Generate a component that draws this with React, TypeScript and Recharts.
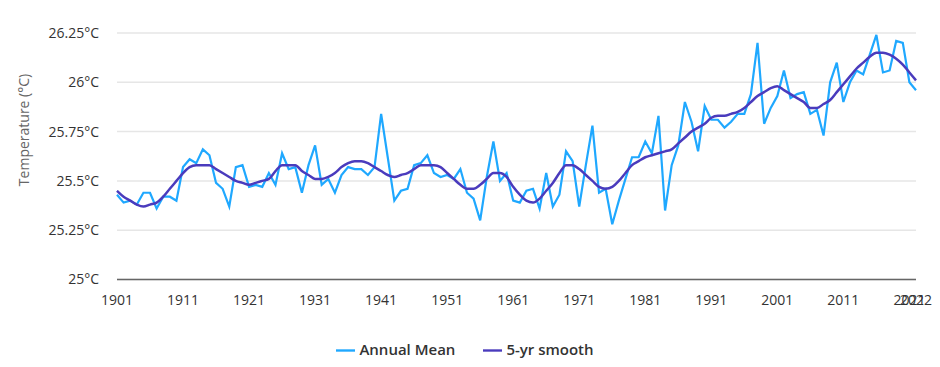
import React from "react";
import { CartesianGrid, Legend, Line, LineChart, XAxis, YAxis } from "recharts";

// Annual mean temperature, 1901–2022, with a 5-year smoothed trend.
const startYear = 1901;

const annualMean = [
  25.43, 25.39, 25.4, 25.38, 25.44, 25.44, 25.36, 25.42, 25.42, 25.4,
  25.57, 25.61, 25.59, 25.66, 25.63, 25.49, 25.46, 25.37, 25.57, 25.58,
  25.47, 25.48, 25.47, 25.54, 25.48, 25.64, 25.56, 25.57, 25.44, 25.58,
  25.68, 25.48, 25.51, 25.44, 25.53, 25.57, 25.56, 25.56, 25.53, 25.57,
  25.84, 25.62, 25.4, 25.45, 25.46, 25.58, 25.59, 25.63, 25.54, 25.52,
  25.53, 25.51, 25.56, 25.44, 25.41, 25.3, 25.52, 25.7, 25.5, 25.54,
  25.4, 25.39, 25.45, 25.46, 25.36, 25.54, 25.37, 25.43, 25.65, 25.6,
  25.37, 25.58, 25.78, 25.44, 25.46, 25.28, 25.4, 25.51, 25.62, 25.62,
  25.7, 25.64, 25.83, 25.35, 25.58, 25.68, 25.9, 25.8, 25.65, 25.88,
  25.81, 25.81, 25.77, 25.8, 25.84, 25.84, 25.94, 26.2, 25.79, 25.87,
  25.93, 26.06, 25.92, 25.94, 25.95, 25.84, 25.86, 25.73, 26.0, 26.1,
  25.9, 26.0, 26.06, 26.04, 26.14, 26.24, 26.05, 26.06, 26.21, 26.2,
  26.0, 25.96,
];

const smooth5 = [
  25.45, 25.42, 25.4, 25.38, 25.37, 25.38, 25.39, 25.42, 25.46, 25.5,
  25.54, 25.57, 25.58, 25.58, 25.58, 25.56, 25.54, 25.52, 25.5, 25.49,
  25.48, 25.49, 25.5, 25.51, 25.55, 25.58, 25.58, 25.58, 25.55, 25.53,
  25.51, 25.51, 25.52, 25.54, 25.57, 25.59, 25.6, 25.6, 25.59, 25.57,
  25.55, 25.53, 25.52, 25.53, 25.54, 25.56, 25.58, 25.58, 25.58, 25.57,
  25.54, 25.51, 25.48, 25.46, 25.46, 25.48, 25.51, 25.54, 25.54, 25.52,
  25.47, 25.43, 25.4, 25.39, 25.41, 25.45, 25.49, 25.54, 25.58, 25.58,
  25.56, 25.53, 25.5, 25.47, 25.46, 25.47, 25.5, 25.54, 25.58, 25.6,
  25.62, 25.63, 25.64, 25.65, 25.66, 25.69, 25.72, 25.75, 25.77, 25.79,
  25.82, 25.83, 25.83, 25.84, 25.85, 25.87, 25.9, 25.93, 25.95, 25.97,
  25.98, 25.96, 25.94, 25.92, 25.9, 25.87, 25.87, 25.89, 25.91, 25.95,
  25.99, 26.03, 26.07, 26.1, 26.13, 26.15, 26.15, 26.14, 26.12, 26.09,
  26.05, 26.01,
];

const xTicks = [1901, 1911, 1921, 1931, 1941, 1951, 1961, 1971, 1981, 1991, 2001, 2011, 2021, 2022];
const yTicks = [25, 25.25, 25.5, 25.75, 26, 26.25];
const seriesOrder = ["annual", "smooth"];

const data = annualMean.map((v, i) => ({ year: startYear + i, annual: v, smooth: smooth5[i] }));

const font = "'Open Sans', 'Noto Sans', sans-serif";

// axis title sits a bit above the plot's middle, like the source
const YTitle = () => (
  <text x={23} y={130} transform="rotate(-90 23 130)" textAnchor="middle" dominantBaseline="central" fontSize={14} fill="#666" fontFamily={font}>
    Temperature (°C)
  </text>
);

export default function App() {
  return (
    <div style={{ position: "absolute", left: 0, top: 0, width: 940, height: 367, background: "#fff", fontFamily: font }}>
      <LineChart width={940} height={367} data={data} margin={{ top: 33, right: 24, bottom: 7, left: 10 }}>
        <CartesianGrid vertical={false} stroke="#e6e6e6" strokeWidth={1.5} />
        <XAxis
          dataKey="year"
          type="number"
          domain={[1901, 2022]}
          ticks={xTicks}
          interval={0}
          tickLine={false}
          axisLine={{ stroke: "#666", strokeWidth: 1.5 }}
          tick={{ fontSize: 14, fill: "#333", fontFamily: font }}
          tickMargin={10}
          height={47}
        />
        <YAxis
          domain={[25, 26.25]}
          ticks={yTicks}
          tickFormatter={(v) => `${v}°C`}
          axisLine={false}
          tickLine={false}
          tick={{ fontSize: 14, fill: "#333", fontFamily: font }}
          tickMargin={12}
          width={107}
          label={{ content: YTitle }}
        />
        <Legend
          verticalAlign="bottom"
          iconType="plainline"
          iconSize={19}
          itemSorter={(item: any) => seriesOrder.indexOf(item.dataKey)}
          wrapperStyle={{ fontSize: 15, fontFamily: font, fontWeight: 600, paddingTop: 12, left: 26 }}
          formatter={(value) => <span style={{ color: "#333", marginRight: 18 }}>{value}</span>}
        />
        <Line type="linear" dataKey="annual" name="Annual Mean" stroke="#1fa8ff" strokeWidth={2.2} dot={false} isAnimationActive={false} />
        <Line type="monotone" dataKey="smooth" name="5-yr smooth" stroke="#4a3bbd" strokeWidth={2.5} dot={false} isAnimationActive={false} />
      </LineChart>
    </div>
  );
}
